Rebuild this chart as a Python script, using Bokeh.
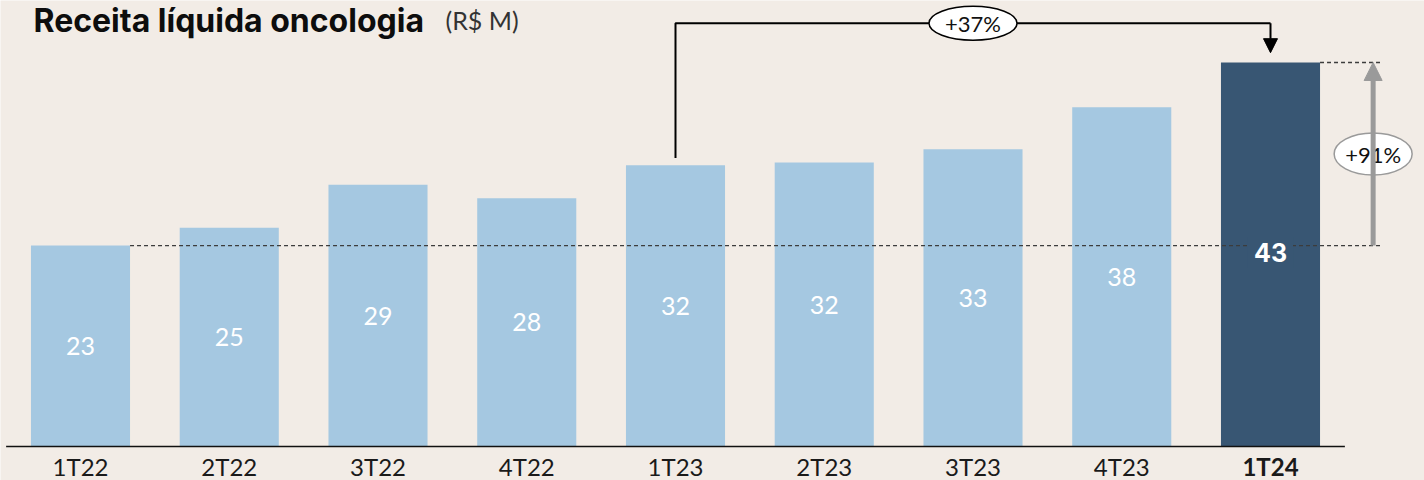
from bokeh.plotting import figure
from bokeh.models import Range1d, Arrow, NormalHead
from bokeh.core.properties import value
from bokeh.embed import file_html
from bokeh.resources import INLINE

# ---- data ----
categories = ["1T22", "2T22", "3T22", "4T22", "1T23", "2T23", "3T23", "4T23", "1T24"]
revenue = [22.5, 24.5, 29.3, 27.8, 31.5, 31.8, 33.3, 38.0, 43.0]
value_labels = ["23", "25", "29", "28", "32", "32", "33", "38", "43"]
growth_yoy_label = "+37%"
growth_2y_label = "+91%"
title_bold = "Receita líquida oncologia"
title_unit = "(R$ M)"

# ---- style / layout ----
BG = "#F2ECE6"
LIGHT = "#A5C8E1"
DARK = "#385673"
W, H = 1424, 480
PX_X = 148.75          # px per category
X0 = 80                # px of first category centre
PX_Y = 8.93            # px per R$ M
BASE = 446             # px of baseline from top
FONT = value("Lato")

n = len(categories)
xs = list(range(n))
last = n - 1

p = figure(width=W, height=H, output_backend="svg", toolbar_location=None,
           x_range=Range1d(-X0 / PX_X, (W - X0) / PX_X),
           y_range=Range1d(-(H - BASE) / PX_Y, BASE / PX_Y),
           x_axis_location=None, y_axis_location=None,
           min_border=0, min_border_left=0, min_border_right=0,
           min_border_top=0, min_border_bottom=0)
p.grid.visible = False
p.outline_line_color = None
p.background_fill_color = BG
p.border_fill_color = BG

bw = 0.666
colors = [LIGHT] * (n - 1) + [DARK]
p.vbar(x=xs, top=revenue, bottom=0, width=bw, fill_color=colors, line_color=None)

# axis line
p.segment(x0=[-0.5], y0=[0], x1=[n - 0.5], y1=[0], line_color="#111111", line_width=1.6)

# reference dashed lines
x_arrow = last + 0.69
x_dash_end = last + 0.74
p.segment(x0=[0 + bw / 2, last + bw / 2], y0=[revenue[0], revenue[last]],
          x1=[x_dash_end, x_dash_end], y1=[revenue[0], revenue[last]],
          line_color="#3c3c3c", line_width=1.4, line_dash="4 3")

# value labels
p.text(x=xs[:-1], y=[v / 2 for v in revenue[:-1]], text=value_labels[:-1],
       text_align="center", text_baseline="middle", text_color="white",
       text_font=FONT, text_font_size="25px")
p.text(x=[last], y=[revenue[last] / 2], text=[value_labels[last]],
       text_align="center", text_baseline="middle", text_color="white",
       text_font=value("Inter"), text_font_style="bold", text_font_size="25px",
       background_fill_color=DARK, padding=6, y_offset=-2)

# category labels
styles = ["normal"] * (n - 1) + ["bold"]
p.text(x=xs, y=[-20 / PX_Y] * n, text=categories, text_font_style=styles,
       text_align="center", text_baseline="middle", text_color="#1a1a1a",
       text_font=FONT, text_font_size="24px")

# +37% bracket (1T23 -> 1T24)
i0 = 4
top_y = revenue[last] + 4.4
p.line(x=[xs[i0], xs[i0], xs[last]], y=[revenue[i0] + 0.8, top_y, top_y],
       line_color="black", line_width=2)
p.add_layout(Arrow(end=NormalHead(size=14, fill_color="black", line_color="black"),
                   x_start=xs[last], y_start=top_y, x_end=xs[last], y_end=revenue[last] + 1.1,
                   line_color="black", line_width=2))
mid_x = (xs[i0] + xs[last]) / 2
p.ellipse(x=[mid_x], y=[top_y], width=88, height=34, width_units="screen", height_units="screen",
          fill_color="white", line_color="black", line_width=1.5)
p.text(x=[mid_x], y=[top_y], text=[growth_yoy_label], text_align="center", text_baseline="middle",
       text_color="#111111", text_font=FONT, text_font_size="22px")

# +91% arrow (1T22 -> 1T24)
GREY = "#9a9a9a"
p.add_layout(Arrow(end=NormalHead(size=18, fill_color=GREY, line_color=GREY),
                   x_start=x_arrow, y_start=revenue[0], x_end=x_arrow, y_end=revenue[last],
                   line_color=GREY, line_width=5))
mid_y = (revenue[0] + revenue[last]) / 2
p.ellipse(x=[x_arrow], y=[mid_y], width=78, height=42, width_units="screen", height_units="screen",
          fill_color="white", line_color=GREY, line_width=1.5)
p.text(x=[x_arrow], y=[mid_y], text=[growth_2y_label], text_align="center", text_baseline="middle",
       text_color="#111111", text_font=FONT, text_font_size="22px")

# title
tx = (33 - X0) / PX_X
ty = BASE / PX_Y - 0.5 / PX_Y
p.text(x=[tx], y=[ty], text=[title_bold], text_align="left", text_baseline="top",
       text_color="#0d0d0d", text_font=value("Inter"), text_font_style="bold", text_font_size="32px")
p.text(x=[tx], y=[ty], x_offset=412, y_offset=4, text=[title_unit], text_align="left", text_baseline="top",
       text_color="#333333", text_font=FONT, text_font_size="25px")

open("out.html", "w").write(file_html(p, INLINE))
